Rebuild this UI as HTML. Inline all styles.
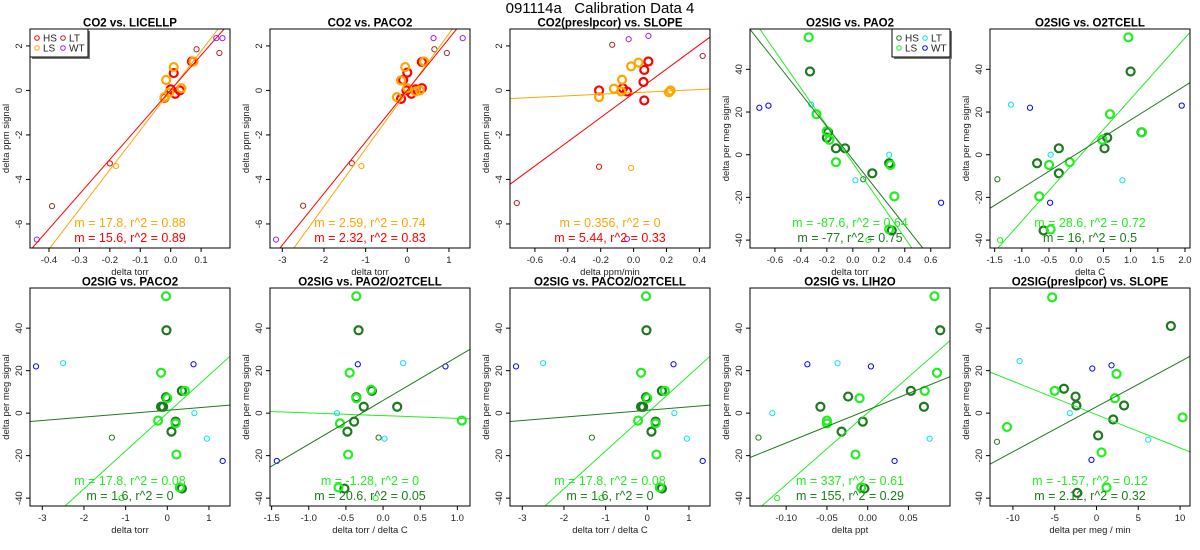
<!DOCTYPE html>
<html><head><meta charset="utf-8"><style>
html,body{margin:0;padding:0;background:#fff;}
svg{display:block;font-family:"Liberation Sans",Arial,sans-serif;}
</style></head><body>
<svg id="chart" width="1200" height="550" viewBox="0 0 1200 550" xmlns="http://www.w3.org/2000/svg">
<text x="600" y="13" text-anchor="middle" font-size="15" xml:space="preserve">091114a   Calibration Data 4</text>
</svg>
<script>
// ---- data ----
const co2Colors = {HS:'#ff0000', LS:'#ffa500', LT:'#a52a2a', WT:'#a020f0'};
const o2Colors = {HS:'#1e7a1e', LS:'#22ee22', LT:'#00e5ee', WT:'#0000ff'};
const panelTitles = ['CO2 vs. LICELLP','CO2 vs. PACO2','CO2(preslpcor) vs. SLOPE','O2SIG vs. PAO2','O2SIG vs. O2TCELL',
 'O2SIG vs. PACO2','O2SIG vs. PAO2/O2TCELL','O2SIG vs. PACO2/O2TCELL','O2SIG vs. LIH2O','O2SIG(preslpcor) vs. SLOPE'];
const xTitles = ['delta torr','delta torr','delta ppm/min','delta torr','delta C','delta torr','delta torr / delta C','delta torr / delta C','delta ppt','delta per meg / min'];
const xLims = [[-0.4625,0.195],[-3.295,1.505],[-0.7515,0.4646],[-0.792,0.7485],[-1.5855,2.092],
 [-3.295,1.505],[-1.522,1.17],[-3.295,1.505],[-0.1444,0.101],[-12.74,11.19]];
const xTicks = [[-0.4,-0.3,-0.2,-0.1,0.0,0.1],[-3,-2,-1,0,1],[-0.6,-0.4,-0.2,0.0,0.2,0.4],[-0.6,-0.4,-0.2,0.0,0.2,0.4,0.6],[-1.5,-1.0,-0.5,0.0,0.5,1.0,1.5,2.0],
 [-3,-2,-1,0,1],[-1.5,-1.0,-0.5,0.0,0.5,1.0],[-3,-2,-1,0,1],[-0.10,-0.05,0.00,0.05],[-10,-5,0,5,10]];
const xTickLabels = [['-0.4','-0.3','-0.2','-0.1','0.0','0.1'],['-3','-2','-1','0','1'],['-0.6','-0.4','-0.2','0.0','0.2','0.4'],['-0.6','-0.4','-0.2','0.0','0.2','0.4','0.6'],['-1.5','-1.0','-0.5','0.0','0.5','1.0','1.5','2.0'],
 ['-3','-2','-1','0','1'],['-1.5','-1.0','-0.5','0.0','0.5','1.0'],['-3','-2','-1','0','1'],['-0.10','-0.05','0.00','0.05'],['-10','-5','0','5','10']];
const co2YLim = [-7.08,2.76];
const o2YLim = [-43.7,58.9];
const co2YTicks = [-6,-4,-2,0,2];
const o2YTicks = [-40,-20,0,20,40];
// points: [x, y, group, thick]
const pts1 = [[0.0,0.05,'HS',1],[0.01,0.78,'HS',1],[-0.02,-0.33,'HS',1],[0.015,-0.15,'HS',1],[0.07,1.3,'HS',1],[0.03,0.0,'HS',1],
 [-0.015,0.47,'LS',1],[0.01,1.05,'LS',1],[-0.005,-0.1,'LS',1],[0.035,0.1,'LS',1],[0.075,1.3,'LS',1],[-0.02,-0.3,'LS',1],
 [-0.2,-3.28,'HS',0],[-0.18,-3.4,'LS',0],[-0.39,-5.2,'LT',0],[0.085,1.85,'LT',0],[0.16,1.68,'LT',0],[-0.44,-6.7,'WT',0],[0.15,2.35,'WT',0],[0.17,2.35,'WT',0]];
const pts2 = [[-0.1,0.47,'HS',1],[-0.02,0.0,'HS',1],[0.0,0.8,'HS',1],[0.1,-0.15,'HS',1],[0.2,0.05,'HS',1],[0.35,0.1,'HS',1],[0.35,1.28,'HS',1],[-0.15,-0.38,'HS',1],
 [-0.15,0.45,'LS',1],[-0.05,1.05,'LS',1],[0.0,0.1,'LS',1],[-0.25,-0.3,'LS',1],[0.2,-0.05,'LS',1],[0.3,0.0,'LS',1],[0.4,1.3,'LS',1],
 [-1.33,-3.27,'HS',0],[-1.1,-3.4,'LS',0],[-2.5,-5.18,'LT',0],[0.65,1.85,'LT',0],[0.95,1.68,'LT',0],[-3.15,-6.7,'WT',0],[0.63,2.35,'WT',0],[1.33,2.35,'WT',0]];
const pts3 = [[-0.21,0.0,'HS',1],[-0.065,0.1,'HS',1],[-0.04,-0.05,'HS',1],[0.06,0.38,'HS',1],[0.065,-0.45,'HS',1],[0.065,0.92,'HS',1],[0.09,1.3,'HS',1],
 [-0.21,-0.3,'LS',1],[-0.12,0.08,'LS',1],[-0.075,-0.05,'LS',1],[-0.07,0.48,'LS',1],[-0.015,1.08,'LS',1],[0.03,1.25,'LS',1],[0.215,-0.08,'LS',1],[0.225,0.0,'LS',1],
 [-0.21,-3.43,'HS',0],[-0.015,-3.48,'LS',0],[-0.71,-5.06,'LT',0],[-0.13,2.05,'LT',0],[0.42,1.55,'LT',0],[-0.03,2.3,'WT',0],[0.09,2.45,'WT',0],[-0.04,-6.67,'WT',0]];
const pts4 = [[-0.33,39,'HS',1],[-0.2,8,'HS',1],[-0.19,10.5,'HS',1],[-0.13,3,'HS',1],[-0.06,3,'HS',1],[0.15,-8.7,'HS',1],[0.28,-4,'HS',1],[0.3,-35.5,'HS',1],
 [-0.34,55,'LS',1],[-0.28,19,'LS',1],[-0.2,11,'LS',1],[-0.18,7,'LS',1],[-0.13,-3.5,'LS',1],[0.29,-4.8,'LS',1],[0.32,-19.5,'LS',1],[0.28,-35,'LS',1],
 [-0.32,23.5,'LT',0],[0.02,-12,'LT',0],[0.28,0,'LT',0],[0.08,-11.5,'HS',0],[0.12,-40,'LS',0],[-0.72,22,'WT',0],[-0.65,23,'WT',0],[0.68,-22.5,'WT',0]];
const pts5 = [[1.0,39,'HS',1],[0.57,8,'HS',1],[0.52,3,'HS',1],[-0.32,3,'HS',1],[-0.72,-4,'HS',1],[-0.32,-8.7,'HS',1],[-0.6,-35.5,'HS',1],[1.2,10.5,'HS',1],
 [0.96,55,'LS',1],[0.62,19,'LS',1],[0.48,7,'LS',1],[1.21,10.5,'LS',1],[-0.5,-4.8,'LS',1],[-0.12,-3.5,'LS',1],[-0.68,-19.5,'LS',1],[-0.47,-35,'LS',1],
 [-1.2,23.5,'LT',0],[-0.47,0,'LT',0],[0.85,-12,'LT',0],[-1.45,-11.5,'HS',0],[-1.4,-40,'LS',0],[-0.85,22,'WT',0],[-0.48,-22.5,'WT',0],[1.94,23,'WT',0]];
const pts6 = [[-0.02,39,'HS',1],[-0.03,7.5,'HS',1],[-0.15,3,'HS',1],[-0.1,3,'HS',1],[0.1,-8.7,'HS',1],[0.2,-4,'HS',1],[0.35,-35.5,'HS',1],[0.35,10.5,'HS',1],
 [-0.03,55,'LS',1],[-0.15,19,'LS',1],[0.0,7,'LS',1],[0.42,10.5,'LS',1],[0.2,-4.8,'LS',1],[-0.22,-3.5,'LS',1],[0.22,-19.5,'LS',1],[0.3,-35,'LS',1],
 [-1.33,-11.5,'HS',0],[-1.1,-40,'LS',0],[-2.5,23.5,'LT',0],[0.65,0,'LT',0],[0.95,-12,'LT',0],[-3.15,22,'WT',0],[0.63,23,'WT',0],[1.33,-22.5,'WT',0]];
const pts7 = [[-0.33,39,'HS',1],[-0.36,7.5,'HS',1],[-0.15,10.5,'HS',1],[-0.26,3,'HS',1],[0.19,3,'HS',1],[-0.39,-4,'HS',1],[-0.48,-8.7,'HS',1],[-0.52,-35.5,'HS',1],
 [-0.36,55,'LS',1],[-0.45,19,'LS',1],[-0.16,11,'LS',1],[-0.36,7,'LS',1],[-0.58,-4.8,'LS',1],[-0.47,-19.5,'LS',1],[1.06,-3.5,'LS',1],[-0.6,-35,'LS',1],
 [-0.34,23,'WT',0],[0.84,22,'WT',0],[-1.43,-22.5,'WT',0],[-0.62,0,'LT',0],[0.27,23.5,'LT',0],[0.02,-12,'LT',0],[-0.06,-11.5,'HS',0],[-0.1,-40,'LS',0]];
const pts9 = [[0.089,39,'HS',1],[0.053,10.5,'HS',1],[-0.024,7.8,'HS',1],[-0.058,3,'HS',1],[0.069,3,'HS',1],[-0.006,-4,'HS',1],[-0.032,-8.7,'HS',1],[-0.004,-35.5,'HS',1],
 [0.082,55,'LS',1],[0.085,19,'LS',1],[0.07,10.5,'LS',1],[-0.01,7,'LS',1],[-0.05,-3.5,'LS',1],[-0.05,-4.8,'LS',1],[-0.015,-19.5,'LS',1],[-0.008,-35,'LS',1],
 [-0.074,23,'WT',0],[0.004,22,'WT',0],[0.033,-22.5,'WT',0],[-0.037,23.5,'LT',0],[-0.117,0,'LT',0],[0.076,-12,'LT',0],[-0.134,-11.5,'HS',0],[-0.111,-40,'LS',0]];
const pts10 = [[8.9,41,'HS',1],[-3.9,11.5,'HS',1],[-2.5,7.8,'HS',1],[-2.4,3.6,'HS',1],[3.3,3.6,'HS',1],[2.0,-3,'HS',1],[0.2,-10.5,'HS',1],[-2.3,-37.5,'HS',1],
 [-5.3,54.5,'LS',1],[-5,10.5,'LS',1],[-10.7,-6.5,'LS',1],[2.4,18.5,'LS',1],[2.2,7,'LS',1],[0.6,-18.5,'LS',1],[1.2,-35,'LS',1],[10.3,-2,'LS',1],
 [-9.2,24.5,'LT',0],[-3.2,0,'LT',0],[6.2,-12.5,'LT',0],[-0.5,21,'WT',0],[1.8,22.5,'WT',0],[-0.6,-22,'WT',0],[-11.9,-13.5,'HS',0]];
const allPts = [pts1,pts2,pts3,pts4,pts5,pts6,pts7,pts6,pts9,pts10];
// fit lines: [slope, intercept] for LS then HS
const lsFits = [[17.8,-0.01],[2.59,-0.035],[0.356,-0.10],[-87.6,-3.9],[28.6,-2.5],[17.8,0.0],[-1.28,-1.17],[17.8,0.0],[337,0.12],[-1.57,-0.7]];
const hsFits = [[15.6,0.02],[2.32,0.01],[5.44,-0.13],[-77,-2.23],[16,0.28],[1.6,1.35],[20.6,5.95],[1.6,1.35],[155,1.5],[2.12,3.0]];
const lsLabels = ['m = 17.8, r^2 = 0.88','m = 2.59, r^2 = 0.74','m = 0.356, r^2 = 0','m = -87.6, r^2 = 0.64','m = 28.6, r^2 = 0.72','m = 17.8, r^2 = 0.08','m = -1.28, r^2 = 0','m = 17.8, r^2 = 0.08','m = 337, r^2 = 0.61','m = -1.57, r^2 = 0.12'];
const hsLabels = ['m = 15.6, r^2 = 0.89','m = 2.32, r^2 = 0.83','m = 5.44, r^2 = 0.33','m = -77, r^2 = 0.75','m = 16, r^2 = 0.5','m = 1.6, r^2 = 0','m = 20.6, r^2 = 0.05','m = 1.6, r^2 = 0','m = 155, r^2 = 0.29','m = 2.12, r^2 = 0.32'];

const NS='http://www.w3.org/2000/svg';
const svg=document.getElementById('chart');
function mk(tag,attrs,parent){const e=document.createElementNS(NS,tag);for(const k in attrs)e.setAttribute(k,attrs[k]);(parent||svg).appendChild(e);return e;}

for(let i=0;i<10;i++){
  const col=i%5,row=Math.floor(i/5);
  const L=30+240*col,R=L+200,T=row?288:29,B=row?506:248;
  const isCO2=i<3;
  const yl=isCO2?co2YLim:o2YLim, xl=xLims[i];
  const cols=isCO2?co2Colors:o2Colors;
  const sx=v=>L+(v-xl[0])/(xl[1]-xl[0])*(R-L);
  const sy=v=>B-(v-yl[0])/(yl[1]-yl[0])*(B-T);
  const g=mk('g',{});
  
  
  const cp=mk('clipPath',{id:'cp'+i},g);mk('rect',{x:L,y:T,width:R-L,height:B-T},cp);
  const t=mk('text',{x:(L+R)/2,y:T-2.5,'text-anchor':'middle','font-size':'11.5','font-weight':'bold'},g);t.textContent=panelTitles[i];
  
  
  // x ticks
  xTicks[i].forEach((v,k)=>{
    const x=sx(v);mk('line',{x1:x,x2:x,y1:B,y2:B+4,stroke:'#000'},g);
    const tl=mk('text',{x:x,y:B+15,'text-anchor':'middle','font-size':'9.5',fill:'#222'},g);tl.textContent=xTickLabels[i][k];
    
    
  });
  mk('line',{x1:sx(xTicks[i][0]),x2:sx(xTicks[i][xTicks[i].length-1]),y1:B,y2:B,stroke:'#000'},g);
  const xt=mk('text',{x:(L+R)/2,y:B+27,'text-anchor':'middle','font-size':'9.5',fill:'#222'},g);xt.textContent=xTitles[i];
  
  
  // y ticks
  const yt=isCO2?co2YTicks:o2YTicks;
  yt.forEach(v=>{
    const y=sy(v);mk('line',{x1:L-4,x2:L,y1:y,y2:y,stroke:'#000'},g);
    const tl=mk('text',{x:L-8,y:y,'text-anchor':'middle','font-size':'9.5',fill:'#222',transform:`rotate(-90 ${L-8} ${y})`},g);tl.textContent=String(v);
    
    
  });
  const yx=L-21,ym=(T+B)/2;
  const ytt=mk('text',{x:yx,y:ym,'text-anchor':'middle','font-size':'9.5',fill:'#222',transform:`rotate(-90 ${yx} ${ym})`},g);ytt.textContent=isCO2?'delta ppm signal':'delta per meg signal';
  
  
  // points
  const pg=mk('g',{'clip-path':`url(#cp${i})`},g);
  allPts[i].forEach(p=>{
    const c=mk('circle',{cx:sx(p[0]),cy:sy(p[1]),r:p[3]?4:2.6,fill:'none',stroke:cols[p[2]],'stroke-width':p[3]?2.2:1},pg);
    
    
  });
  // fit lines
  [[lsFits[i],cols.LS,'ls-fit-line'],[hsFits[i],cols.HS,'hs-fit-line']].forEach(f=>{
    const m=f[0][0],b=f[0][1];
    const ln=mk('line',{x1:sx(xl[0]),y1:sy(m*xl[0]+b),x2:sx(xl[1]),y2:sy(m*xl[1]+b),stroke:f[1],'stroke-width':1},pg);
    
    
  });
  // annotations
  const a1=mk('text',{x:(L+R)/2,y:B-21,'text-anchor':'middle','font-size':'12.5',fill:cols.LS},g);a1.textContent=lsLabels[i];
  
  
  const a2=mk('text',{x:(L+R)/2,y:B-6,'text-anchor':'middle','font-size':'12.5',fill:cols.HS},g);a2.textContent=hsLabels[i];
  
  
  mk('rect',{x:L,y:T,width:R-L,height:B-T,fill:'none',stroke:'#000'},g);
  // legends
  if(i===0||i===3){
    const lx=i===0?L:R-58;
    const lg=mk('g',{},g);
    
    
    mk('rect',{x:lx+2,y:T+2,width:58,height:28,fill:'#777'},lg);
    mk('rect',{x:lx,y:T,width:58,height:28,fill:'#fff',stroke:'#000'},lg);
    [['HS',0,0],['LS',0,1],['LT',1,0],['WT',1,1]].forEach(e=>{
      const ex=lx+7+e[1]*26,ey=T+9+e[2]*10;
      mk('circle',{cx:ex,cy:ey,r:2.3,fill:'none',stroke:cols[e[0]],'stroke-width':1},lg);
      const et=mk('text',{x:ex+6,y:ey+3.5,'font-size':'10',fill:'#222'},lg);et.textContent=e[0];
      
      
    });
  }
}
</script>
</body></html>
